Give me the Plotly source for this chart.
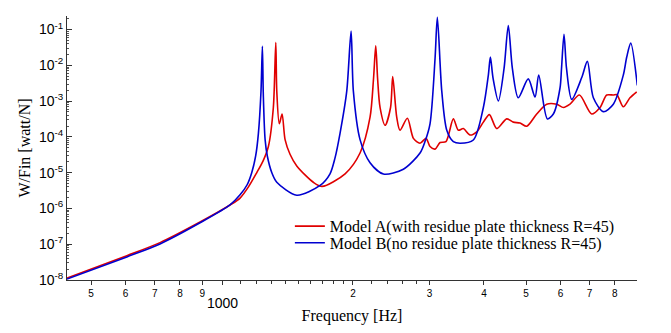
import plotly.graph_objects as go

# ---- data ----
freq_a = [440, 604, 720, 890, 1043, 1100, 1150, 1202, 1242, 1278, 1312, 1329, 1336, 1354,
          1374, 1396, 1433, 1485, 1621, 1698, 1918, 2076, 2189, 2230, 2256, 2278, 2308,
          2370, 2440, 2468, 2521, 2565, 2667, 2754, 2852, 2944, 3007, 3088, 3171, 3272,
          3402, 3493, 3587, 3716, 3851, 3988, 4117, 4281, 4512, 4673, 4842, 5017, 5290,
          5577, 5882, 6091, 6310, 6630, 7076, 7396, 7663, 7935, 8078, 8367, 8667, 8981]
resp_a = [1.13e-8, 4.8e-8, 1.11e-7, 4.18e-7, 1.25e-6, 1.95e-6, 4.0e-6, 1.01e-5, 2.11e-5,
          5.41e-5, 6.65e-4, 0.0436, 1.9e-3, 2.33e-4, 4.37e-4, 8.4e-5, 3.27e-5, 1.54e-5,
          5.41e-6, 4.13e-6, 9.3e-6, 3.55e-5, 3.55e-4, 4.37e-3, 0.0353, 4.37e-3, 6.65e-4,
          2.11e-4, 6.65e-4, 4.86e-3, 3.55e-4, 1.54e-4, 3.33e-4, 9.1e-5, 6.65e-5, 9.1e-5,
          5.41e-5, 4.56e-5, 6.95e-5, 7.4e-5, 3.19e-4, 1.54e-4, 1.71e-4, 1.13e-4, 1.39e-4,
          2.59e-4, 4.21e-4, 1.71e-4, 3.19e-4, 2.59e-4, 2.44e-4, 1.98e-4, 4.37e-4, 8.2e-4,
          8.2e-4, 6.65e-4, 8.2e-4, 1.48e-3, 4.37e-4, 6.65e-4, 1.48e-3, 1.48e-3, 1.53e-3,
          6.95e-4, 1.24e-3, 1.82e-3]

freq_b = [440, 604, 720, 890, 1043, 1100, 1142, 1170, 1195, 1212, 1229, 1238, 1244,
          1256, 1271, 1301, 1336, 1485, 1680, 1771, 1818, 1867, 1935, 1980, 2004, 2076,
          2189, 2349, 2611, 2852, 2928, 3007, 3088, 3126, 3200, 3286, 3402, 3524, 3782,
          3988, 4095, 4139, 4198, 4318, 4450, 4551, 4650, 4798, 5058, 5243, 5346, 5596,
          5776, 5984, 6032, 6112, 6194, 6367, 6713, 6917, 7140, 7527, 7935, 8367, 8519,
          8702, 9010]
resp_b = [1.06e-8, 4.43e-8, 1.02e-7, 3.97e-7, 1.25e-6, 2.4e-6, 4.6e-6, 1.0e-5,
          3.0e-5, 1.24e-4, 1.93e-3, 0.034, 1.53e-3, 8.4e-5, 2.88e-5, 1.01e-5, 5.41e-6,
          2.35e-6, 4.39e-6, 9.3e-6, 2.55e-5, 1.24e-4, 1.9e-3, 0.0904, 1.9e-3, 8.4e-5,
          1.9e-5, 9.2e-6, 1.25e-5, 3.55e-5, 7.4e-5, 2.33e-4, 0.0153, 0.22, 1.9e-3, 1.54e-4,
          7.4e-5, 6.65e-5, 8.2e-5, 6.65e-4, 5.37e-3, 0.0171, 4.37e-3, 1.01e-3, 8.2e-3,
          0.129, 8.2e-3, 1.24e-3, 4.18e-3, 1.3e-3, 5.37e-3, 3.19e-4, 4.37e-4, 2.33e-3,
          8.2e-3, 0.0734, 8.2e-3, 1.12e-3, 4.56e-3, 0.0129, 1.24e-3, 5.08e-4, 8.2e-4,
          5.37e-3, 0.0171, 0.0418, 2.76e-3]

name_a = "Model A(with residue plate thickness R=45)"
name_b = "Model B(no residue plate thickness R=45)"

x_tick_vals = [500, 600, 700, 800, 900, 1000, 2000, 3000, 4000, 5000, 6000, 7000, 8000]
x_tick_text = ["5", "6", "7", "8", "9", "", "2", "3", "4", "5", "6", "7", "8"]
x_minor_vals = [1100, 1200, 1300, 1400, 1500, 1600, 1700, 1800, 1900, 2200, 2400, 2600, 2800]
y_decades = [-8, -7, -6, -5, -4, -3, -2, -1]
y_mantissas = [2, 3, 4, 5, 6, 7, 8, 9]
y_minor_vals = [m * 10.0 ** e for e in y_decades for m in y_mantissas]

serif = "Liberation Serif, Times New Roman, serif"
sans = "Liberation Sans, Arial, sans-serif"

fig = go.Figure()
fig.add_trace(go.Scatter(x=freq_a, y=resp_a, mode="lines", name=name_a, legend="legend",
                         line=dict(color="#e00000", width=1.6, shape="spline", smoothing=0.8)))
fig.add_trace(go.Scatter(x=freq_b, y=resp_b, mode="lines", name=name_b, legend="legend2",
                         line=dict(color="#0000d0", width=1.6, shape="spline", smoothing=0.8)))

legend_common = dict(xanchor="left", yanchor="top",
                     font=dict(family=serif, size=16, color="black"),
                     bgcolor="rgba(0,0,0,0)", itemwidth=30)

fig.update_layout(
    width=671, height=333,
    margin=dict(l=67, r=34, t=16, b=46),
    paper_bgcolor="white", plot_bgcolor="white",
    showlegend=True,
    legend=dict(x=0.391, y=0.268, **legend_common),
    legend2=dict(x=0.391, y=0.205, **legend_common),
    xaxis=dict(type="log", range=[2.6435, 3.954],
               tickmode="array", tickvals=x_tick_vals, ticktext=x_tick_text,
               ticks="outside", ticklen=4, tickcolor="#333",
               minor=dict(tickmode="array", tickvals=x_minor_vals, ticks="outside",
                          ticklen=3, tickcolor="#333", showgrid=False),
               showline=True, linecolor="#333", linewidth=1,
               showgrid=False, zeroline=False,
               tickfont=dict(family=sans, size=10, color="black"),
               title=dict(text="Frequency [Hz]", font=dict(family=serif, size=16, color="black"),
                          standoff=11)),
    yaxis=dict(type="log", range=[-8, -0.62],
               tickmode="array", tickvals=[10.0 ** e for e in y_decades],
               ticktext=["10<sup>%d</sup>" % e for e in y_decades],
               ticks="inside", ticklen=5, tickcolor="#333",
               minor=dict(tickmode="array", tickvals=y_minor_vals, ticks="inside",
                          ticklen=2, tickcolor="#555", showgrid=False),
               showline=True, linecolor="#333", linewidth=1,
               showgrid=False, zeroline=False,
               tickfont=dict(family=sans, size=14, color="black"),
               title=dict(text="W/Fin [watt/N]", font=dict(family=serif, size=16, color="black"),
                          standoff=4)),
)

fig.add_annotation(x=3, y=-0.088, xref="x", yref="paper", text="1000", showarrow=False,
                   xanchor="center", yanchor="middle",
                   font=dict(family=sans, size=14, color="black"))

fig.write_html("out.html")
